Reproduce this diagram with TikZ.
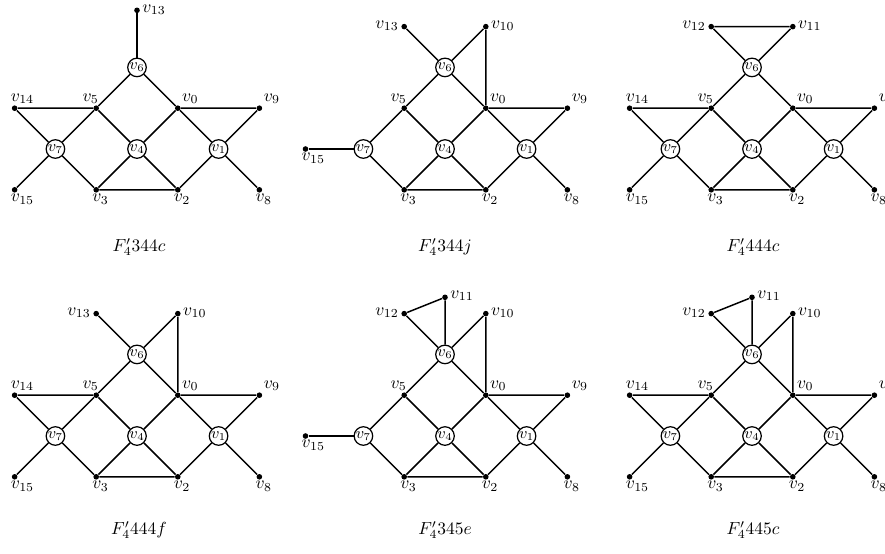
\documentclass[tikz,border=0pt]{standalone}
\begin{document}
\tikzset{
 gline/.style={line width=0.85pt},
 dotv/.style={circle, fill, inner sep=0pt, minimum size=3.2pt},
 ringv/.style={circle, draw, line width=0.7pt, fill=white, inner sep=0pt, minimum size=10.6pt, font=\small},
 lab/.style={inner sep=0pt, font=\normalsize},
 labup/.style={lab, anchor=south west},
 labul/.style={lab, anchor=south east},
 labdn/.style={lab, anchor=north west},
 labrt/.style={lab, anchor=west},
 lablt/.style={lab, anchor=east},
 captxt/.style={font=\normalsize},
 panel/.style={x=23.31pt, y=23.31pt}
}
\newcommand\coregraph{%
 \node[ringv] (v4) at (0,0) {$v_4$};
 \node[ringv] (v7) at (-2,0) {$v_7$};
 \node[ringv] (v1) at (2,0) {$v_1$};
 \node[ringv] (v6) at (0,2) {$v_6$};
 \node[dotv] (v5) at (-1,1) {};
 \node[dotv] (v0) at (1,1) {};
 \node[dotv] (v9) at (3,1) {};
 \node[dotv] (v3) at (-1,-1) {};
 \node[dotv] (v2) at (1,-1) {};
 \node[dotv] (v8) at (3,-1) {};
 \node[labul] (l5) at ([xshift=1.7pt,yshift=2.3pt]v5.center) {$v_5$};
 \node[labup] (l0) at ([xshift=2.3pt,yshift=2.3pt]v0.center) {$v_0$};
 \node[labup] (l9) at ([xshift=2.3pt,yshift=2.3pt]v9.center) {$v_9$};
 \node[labdn] (l3) at ([xshift=-2.4pt,yshift=-2.3pt]v3.center) {$v_3$};
 \node[labdn] (l2) at ([xshift=-2.4pt,yshift=-2.3pt]v2.center) {$v_2$};
 \node[labdn] (l8) at ([xshift=-2.4pt,yshift=-2.3pt]v8.center) {$v_8$};
 \draw[gline] (v6)--(v5) (v6)--(v0) (v0)--(v9) (v5)--(v7) (v7)--(v3)
   (v5)--(v4) (v4)--(v2) (v0)--(v4) (v4)--(v3) (v0)--(v1) (v1)--(v8)
   (v9)--(v1) (v1)--(v2) (v3)--(v2);
}
\newcommand\wingleft{%
 \node[dotv] (v14) at (-3,1) {};
 \node[dotv] (v15) at (-3,-1) {};
 \node[labup] (l14) at ([xshift=-2.4pt,yshift=2.3pt]v14.center) {$v_{14}$};
 \node[labdn] (l15) at ([xshift=-2.4pt,yshift=-2.3pt]v15.center) {$v_{15}$};
 \draw[gline] (v14)--(v5) (v14)--(v7) (v7)--(v15);
}
\newcommand\tailleft{%
 \node[dotv] (v15) at (-3.42,0) {};
 \node[labdn] (l15) at ([xshift=-2.4pt,yshift=-2.3pt]v15.center) {$v_{15}$};
 \draw[gline] (v15)--(v7);
}
\newcommand\horns{%
 \node[dotv] (v13) at (-1,3) {};
 \node[dotv] (v10) at (1,3) {};
 \node[lablt] (l13) at ([xshift=-2.9pt,yshift=0.5pt]v13.center) {$v_{13}$};
 \node[labrt] (l10) at ([xshift=2.9pt,yshift=0.5pt]v10.center) {$v_{10}$};
 \draw[gline] (v13)--(v6) (v6)--(v10) (v10)--(v0);
}
\newcommand\flag{%
 \node[dotv] (v12) at (-1,3) {};
 \node[dotv] (v11) at (0,3.4) {};
 \node[dotv] (v10) at (1,3) {};
 \node[lablt] (l12) at ([xshift=-2.9pt,yshift=0.5pt]v12.center) {$v_{12}$};
 \node[labrt] (l11) at ([xshift=2.9pt,yshift=1pt]v11.center) {$v_{11}$};
 \node[labrt] (l10) at ([xshift=2.9pt,yshift=0.5pt]v10.center) {$v_{10}$};
 \draw[gline] (v12)--(v11) (v12)--(v6) (v11)--(v6) (v6)--(v10) (v10)--(v0);
}
\begin{tikzpicture}[x=0.571429pt, y=-0.571429pt]
\useasboundingbox (0,0) rectangle (885,553);
% panel 1
\begin{scope}[shift={(137,149)}, panel, name prefix=p1-]
 \coregraph
 \wingleft
 \node[dotv] (v13) at (0,3.4) {};
 \node[labrt] (l13) at ([xshift=2.9pt,yshift=0.3pt]v13.center) {$v_{13}$};
 \draw[gline] (v13)--(v6);
\end{scope}
% panel 2
\begin{scope}[shift={(445,149)}, panel, name prefix=p2-]
 \coregraph
 \tailleft
 \horns
\end{scope}
% panel 3
\begin{scope}[shift={(752,149)}, panel, name prefix=p3-]
 \coregraph
 \wingleft
 \node[dotv] (v12) at (-1,3) {};
 \node[dotv] (v11) at (1,3) {};
 \node[lablt] (l12) at ([xshift=-2.9pt,yshift=0.5pt]v12.center) {$v_{12}$};
 \node[labrt] (l11) at ([xshift=2.9pt,yshift=0.5pt]v11.center) {$v_{11}$};
 \draw[gline] (v12)--(v11) (v12)--(v6) (v11)--(v6);
\end{scope}
% panel 4
\begin{scope}[shift={(137,436)}, panel, name prefix=p4-]
 \coregraph
 \wingleft
 \horns
\end{scope}
% panel 5
\begin{scope}[shift={(445,436)}, panel, name prefix=p5-]
 \coregraph
 \tailleft
 \flag
\end{scope}
% panel 6
\begin{scope}[shift={(752,436)}, panel, name prefix=p6-]
 \coregraph
 \wingleft
 \flag
\end{scope}
\node[captxt] (c1) at (139,247) {$F'_4344c$};
\node[captxt] (c2) at (445,247) {$F'_4344j$};
\node[captxt] (c3) at (753,247) {$F'_4444c$};
\node[captxt] (c4) at (139,530) {$F'_4444f$};
\node[captxt] (c5) at (445,530) {$F'_4345e$};
\node[captxt] (c6) at (753,530) {$F'_4445c$};
\end{tikzpicture}
\end{document}
